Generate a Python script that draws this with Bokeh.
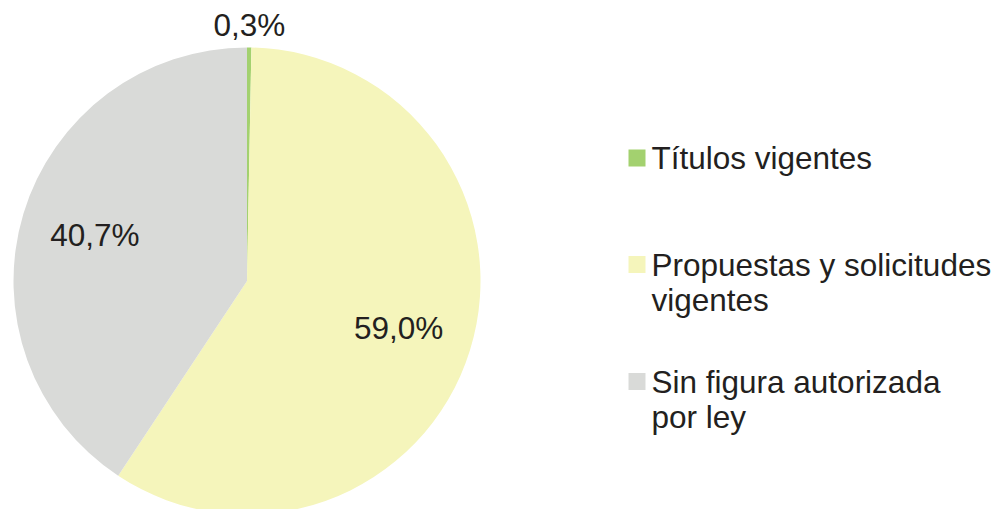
import math
from bokeh.plotting import figure
from bokeh.models import Range1d, ColumnDataSource
from bokeh.core.properties import value
from bokeh.embed import file_html
from bokeh.resources import INLINE

# ---- data ----
categories = ["Títulos vigentes", "Propuestas y solicitudes\nvigentes", "Sin figura autorizada\npor ley"]
shares = [0.3, 59.0, 40.7]
pct_labels = ["0,3%", "59,0%", "40,7%"]

# ---- style ----
colors = ["#a3d16f", "#f5f5bb", "#d9dad8"]
text_color = "#231f20"
font = "Liberation Sans"
fsize = "31.5px"

W, H = 998, 509
p = figure(width=W, height=H, output_backend="svg", toolbar_location=None,
           x_range=Range1d(0, W), y_range=Range1d(-H, 0),
           min_border=0, x_axis_location=None, y_axis_location=None,
           outline_line_color=None, background_fill_color="white",
           border_fill_color="white")
p.grid.visible = False

cx, cy, R = 246.5, -280.5, 233.5
total = sum(shares)
starts, ends, lx, ly = [], [], [], []
cum = 0.0
for i, v in enumerate(shares):
    a_before = math.pi / 2 - 2 * math.pi * cum / total
    cum += v
    a_after = math.pi / 2 - 2 * math.pi * cum / total
    starts.append(a_after)
    ends.append(a_before)
    mid = (a_before + a_after) / 2
    f = 1.095 if v < 2 else 0.68
    lx.append(cx + f * R * math.cos(mid))
    ly.append(cy + f * R * math.sin(mid))

src = ColumnDataSource(dict(start=starts, end=ends, color=colors, cat=categories))
p.wedge(x=cx, y=cy, radius=R, start_angle="start", end_angle="end",
        direction="anticlock", fill_color="color", line_color=None, source=src)

p.text(x=lx, y=ly, text=pct_labels, text_font=value(font), text_font_size=fsize,
       text_color=text_color, text_align="center", text_baseline="middle")

# ---- legend ----
legend_sq_y = [157.5, 264.0, 381.0]
sq_x, sq_size, txt_x = 636.5, 17, 651
line_h = 35
p.rect(x=[sq_x] * len(categories), y=[-y for y in legend_sq_y], width=sq_size, height=sq_size,
       fill_color=colors, line_color=None)
tx, ty, tt = [], [], []
for i, cat in enumerate(categories):
    for j, line in enumerate(cat.split("\n")):
        tx.append(txt_x)
        ty.append(-(legend_sq_y[i] + j * line_h))
        tt.append(line)
p.text(x=tx, y=ty, text=tt, text_font=value(font), text_font_size=fsize,
       text_color=text_color, text_align="left", text_baseline="middle")

open("out.html", "w").write(file_html(p, INLINE))
